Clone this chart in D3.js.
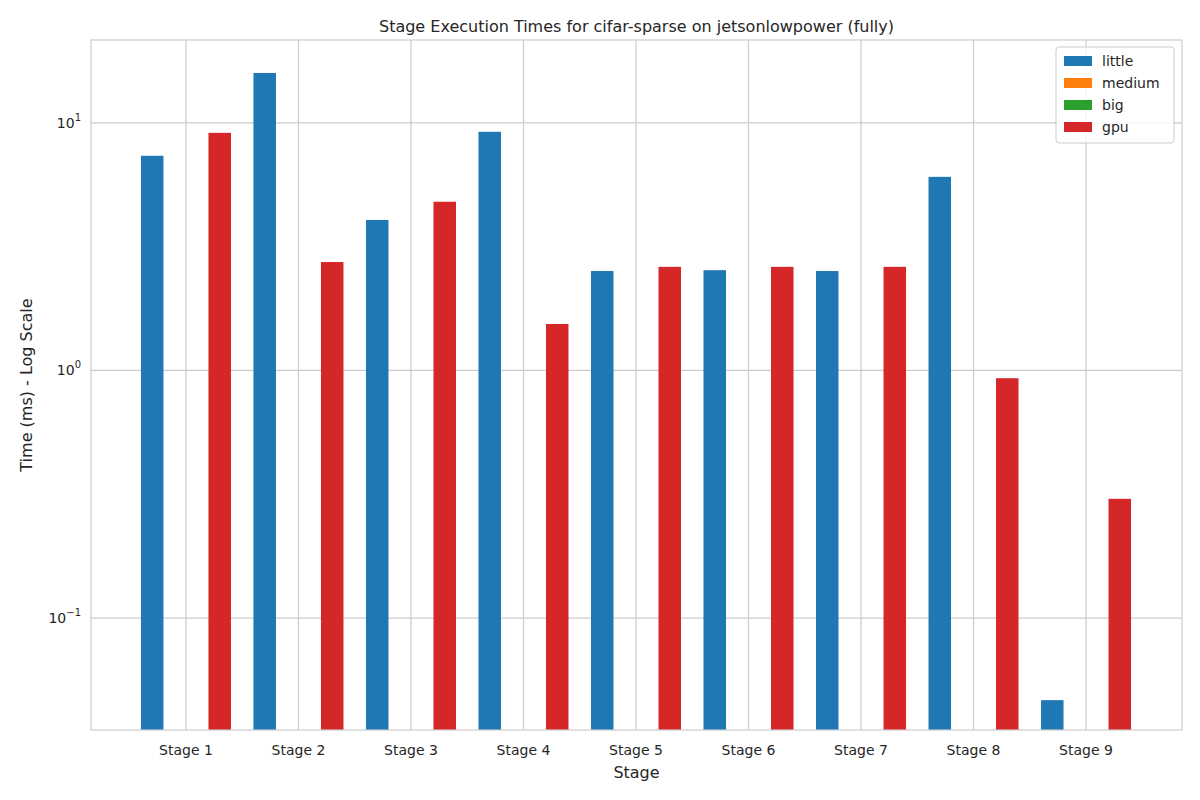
<!DOCTYPE html>
<html>
<head>
<meta charset="utf-8">
<script src="https://cdn.jsdelivr.net/npm/d3@7"></script>
<style>
  body { margin: 0; background: #fff; }
  text { font-family: "DejaVu Sans", sans-serif; fill: #262626; }
</style>
</head>
<body>
<div id="chart"></div>
<script>
const stages = ["Stage 1", "Stage 2", "Stage 3", "Stage 4", "Stage 5", "Stage 6", "Stage 7", "Stage 8", "Stage 9"];
const seriesNames = ["little", "medium", "big", "gpu"];
const seriesColors = ["#1f77b4", "#ff7f0e", "#2ca02c", "#d62728"];
const little = [7.36, 15.9, 4.05, 9.2, 2.52, 2.54, 2.52, 6.05, 0.0466];
const medium = [null, null, null, null, null, null, null, null, null];
const big = [null, null, null, null, null, null, null, null, null];
const gpu = [9.11, 2.74, 4.8, 1.54, 2.62, 2.62, 2.62, 0.93, 0.303];
const seriesValues = [little, medium, big, gpu];
const yTicks = [0.1, 1, 10];
const yTickExp = ["−1", "0", "1"];

const width = 1200, height = 800;
const margin = { top: 40, left: 91, right: 18, bottom: 70 };
const plotWidth = width - margin.left - margin.right;
const plotHeight = height - margin.top - margin.bottom;

const svg = d3.select("#chart").append("svg")
  .attr("width", width).attr("height", height);

const xScale = d3.scaleLinear().domain([-0.844, 8.853]).range([0, plotWidth]);
const yScale = d3.scaleLog().domain([0.0353, 21.6]).range([plotHeight, 0]);
const barW = 0.2;

const g = svg.append("g").attr("transform", `translate(${margin.left},${margin.top})`);

// grid
g.selectAll("line.vgrid").data(stages).enter().append("line")
  .attr("x1", (d, i) => xScale(i)).attr("x2", (d, i) => xScale(i))
  .attr("y1", 0).attr("y2", plotHeight)
  .attr("stroke", "#cccccc").attr("stroke-width", 1.2);
g.selectAll("line.hgrid").data(yTicks).enter().append("line")
  .attr("x1", 0).attr("x2", plotWidth)
  .attr("y1", d => yScale(d)).attr("y2", d => yScale(d))
  .attr("stroke", "#cccccc").attr("stroke-width", 1.2);

// bars
seriesValues.forEach((vals, s) => {
  g.append("g").selectAll("rect").data(vals.map((v, i) => ({ v, i })).filter(d => d.v != null))
    .enter().append("rect")
    .attr("x", d => xScale(d.i + (s - 2) * barW))
    .attr("width", xScale(barW) - xScale(0))
    .attr("y", d => yScale(d.v))
    .attr("height", d => plotHeight - yScale(d.v))
    .attr("fill", seriesColors[s]);
});

// frame
g.append("rect").attr("width", plotWidth).attr("height", plotHeight)
  .attr("fill", "none").attr("stroke", "#cccccc").attr("stroke-width", 1.2);

// x tick labels
g.selectAll("text.xt").data(stages).enter().append("text")
  .attr("x", (d, i) => xScale(i)).attr("y", plotHeight + 25)
  .attr("text-anchor", "middle").style("font-size", "14px").text(d => d);

// y tick labels
const yt = g.selectAll("text.yt").data(yTicks).enter().append("text")
  .attr("x", -10).attr("y", d => yScale(d) + 5)
  .attr("text-anchor", "end").style("font-size", "14px");
yt.append("tspan").text("10");
yt.append("tspan").attr("dy", -7).style("font-size", "10px").text((d, i) => yTickExp[i]);

// axis labels & title
svg.append("text").attr("x", margin.left + plotWidth / 2).attr("y", 778)
  .attr("text-anchor", "middle").style("font-size", "16px").text("Stage");
svg.append("text")
  .attr("transform", `translate(32,${margin.top + plotHeight / 2}) rotate(-90)`)
  .attr("text-anchor", "middle").style("font-size", "16px").text("Time (ms) - Log Scale");
svg.append("text").attr("x", margin.left + plotWidth / 2).attr("y", 32)
  .attr("text-anchor", "middle").style("font-size", "16px")
  .text("Stage Execution Times for cifar-sparse on jetsonlowpower (fully)");

// legend
const lg = svg.append("g").attr("transform", "translate(1056,47)");
lg.append("rect").attr("width", 118).attr("height", 96).attr("rx", 3)
  .attr("fill", "#fff").attr("fill-opacity", 0.8).attr("stroke", "#cccccc");
seriesNames.forEach((n, i) => {
  lg.append("rect").attr("x", 8).attr("y", 9 + i * 22).attr("width", 28).attr("height", 10)
    .attr("fill", seriesColors[i]);
  lg.append("text").attr("x", 46).attr("y", 19 + i * 22).style("font-size", "14px").text(n);
});
</script>
</body>
</html>
